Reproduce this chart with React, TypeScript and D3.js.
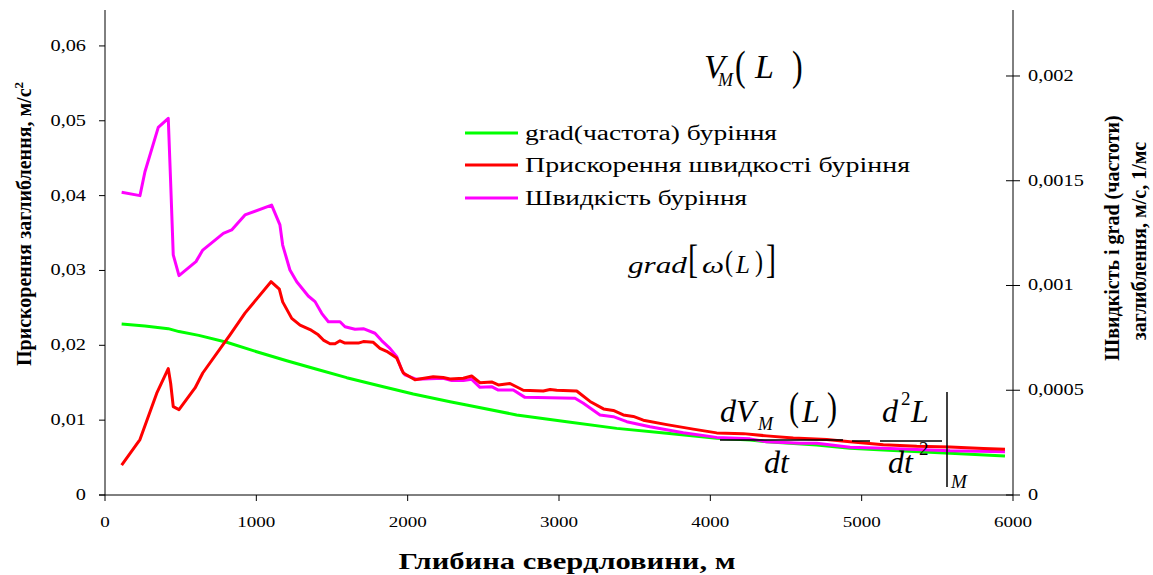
import React from "react";
import * as d3 from "d3";

// ---- Data (depth in m) ----
const redDepth = [110, 231, 342, 418, 434, 451, 489, 595, 646, 826, 925, 1097, 1152, 1174, 1234, 1289, 1355, 1409, 1443, 1487, 1520, 1553, 1586, 1674, 1707, 1773, 1817, 1861, 1928, 1971, 2048, 2169, 2235, 2280, 2368, 2423, 2478, 2555, 2599, 2676, 2764, 2896, 2941, 2985, 3117, 3205, 3294, 3359, 3425, 3491, 3557, 3712, 3887, 4042, 4218, 4372, 4548, 4769, 4923, 5143, 5364, 5584, 5804, 5947];
const redValue = [0.0040, 0.0074, 0.0136, 0.0169, 0.0149, 0.0118, 0.0114, 0.0143, 0.0163, 0.0214, 0.0243, 0.0285, 0.0275, 0.0258, 0.0236, 0.0227, 0.0221, 0.0214, 0.0207, 0.0202, 0.0202, 0.0206, 0.0203, 0.0203, 0.0205, 0.0204, 0.0196, 0.0192, 0.0183, 0.0163, 0.0154, 0.0158, 0.0157, 0.0155, 0.0156, 0.0159, 0.0150, 0.0151, 0.0147, 0.0149, 0.0140, 0.0139, 0.0141, 0.0140, 0.0139, 0.0125, 0.0115, 0.0113, 0.0107, 0.0105, 0.0100, 0.0094, 0.0088, 0.0083, 0.0082, 0.0079, 0.0076, 0.0074, 0.0071, 0.0067, 0.0065, 0.0064, 0.0062, 0.0061];

const magDepth = [110, 231, 264, 352, 418, 434, 451, 489, 601, 646, 782, 837, 925, 1101, 1156, 1174, 1222, 1267, 1343, 1388, 1432, 1476, 1553, 1586, 1652, 1707, 1784, 1828, 1883, 1928, 1961, 1982, 2060, 2235, 2291, 2368, 2423, 2478, 2555, 2599, 2698, 2775, 3106, 3161, 3271, 3359, 3448, 3601, 3821, 4042, 4262, 4372, 4593, 4703, 4923, 5143, 5584, 5947];
const magValue = [0.001445, 0.001429, 0.001543, 0.001755, 0.001798, 0.001488, 0.001146, 0.001047, 0.001114, 0.001169, 0.001249, 0.001265, 0.001337, 0.001384, 0.001289, 0.001193, 0.001074, 0.001018, 0.00095, 0.000923, 0.000867, 0.000827, 0.000827, 0.000803, 0.000791, 0.000794, 0.000772, 0.000737, 0.0007, 0.00066, 0.000597, 0.000573, 0.000552, 0.000557, 0.000546, 0.000546, 0.000552, 0.000514, 0.000517, 0.000501, 0.000501, 0.000466, 0.000462, 0.000438, 0.000382, 0.000374, 0.00035, 0.000326, 0.000297, 0.000275, 0.000268, 0.000254, 0.000247, 0.000247, 0.000228, 0.000223, 0.000211, 0.000207];

const greenDepth = [110, 264, 418, 489, 620, 804, 1002, 1201, 1399, 1597, 1839, 2037, 2280, 2390, 2720, 3051, 3381, 3712, 4042, 4262, 4372, 4703, 4923, 5143, 5584, 5947];
const greenValue = [0.000816, 0.000807, 0.000794, 0.00078, 0.000762, 0.000729, 0.000684, 0.000641, 0.0006, 0.00056, 0.000517, 0.000482, 0.000445, 0.00043, 0.000382, 0.00035, 0.000318, 0.000295, 0.000271, 0.000263, 0.000254, 0.000239, 0.000223, 0.000215, 0.000199, 0.000186];

const xTicks = [0, 1000, 2000, 3000, 4000, 5000, 6000];
const leftTicks = [0, 0.01, 0.02, 0.03, 0.04, 0.05, 0.06];
const leftTickLabels = ["0", "0,01", "0,02", "0,03", "0,04", "0,05", "0,06"];
const rightTicks = [0, 0.0005, 0.001, 0.0015, 0.002];
const rightTickLabels = ["0", "0,0005", "0,001", "0,0015", "0,002"];

const legendLabels = ["grad(частота) буріння", "Прискорення швидкості буріння", "Швидкість буріння"];
const legendColors = ["#00ff00", "#ff0000", "#ff00ff"];

const xTitle = "Глибина свердловини, м";
const leftTitle = "Прискорення заглиблення, м/с";
const rightTitle1 = "Швидкість і grad (частоти)";
const rightTitle2 = "заглиблення, м/с, 1/мс";

const SERIF = "'Liberation Serif', 'Times New Roman', serif";

export default function App() {
  const W = 1153, H = 575;
  const x = d3.scaleLinear().domain([0, 6000]).range([105, 1013]);
  const yL = d3.scaleLinear().domain([0, 0.0648]).range([495, 10]);
  const yR = d3.scaleLinear().domain([0, 0.002315]).range([495, 10]);

  const mk = (ys: d3.ScaleLinear<number, number>) =>
    d3.line<[number, number]>().x((d) => x(d[0])).y((d) => ys(d[1]));

  const red = mk(yL)(redDepth.map((d, i) => [d, redValue[i]]));
  const mag = mk(yR)(magDepth.map((d, i) => [d, magValue[i]]));
  const green = mk(yR)(greenDepth.map((d, i) => [d, greenValue[i]]));

  const sx = 1.27;
  const paren = (key: string, px: number, py: number, size: number, sy: number, ch: string) => (
    <text key={key} transform={`translate(${px},${py}) scale(1,${sy})`} fontSize={size} fontStyle="normal">{ch}</text>
  );

  return (
    <svg width={W} height={H} style={{ position: "absolute", left: 0, top: 0, background: "#fff" }} fontFamily={SERIF}>
      <rect x={0} y={0} width={W} height={H} fill="#fff" />
      {/* axes */}
      <line x1={105} y1={10} x2={105} y2={495} stroke="#000" strokeWidth={1} />
      <line x1={1013} y1={10} x2={1013} y2={495} stroke="#000" strokeWidth={1} />
      <line x1={99} y1={495} x2={1013} y2={495} stroke="#000" strokeWidth={1} />
      {leftTicks.map((t, i) => (
        <g key={"l" + i}>
          <line x1={99} x2={105} y1={yL(t)} y2={yL(t)} stroke="#000" />
          <text transform={`translate(86,${yL(t) + 5}) scale(${sx},1)`} textAnchor="end" fontSize={16}>
            {leftTickLabels[i]}
          </text>
        </g>
      ))}
      {rightTicks.map((t, i) => (
        <g key={"r" + i}>
          <line x1={1006} x2={1020} y1={yR(t)} y2={yR(t)} stroke="#000" />
          <text transform={`translate(1028,${yR(t) + 5}) scale(${sx},1)`} textAnchor="start" fontSize={16}>
            {rightTickLabels[i]}
          </text>
        </g>
      ))}
      {xTicks.map((t, i) => (
        <g key={"x" + i}>
          <line x1={x(t)} x2={x(t)} y1={495} y2={501} stroke="#000" />
          <text transform={`translate(${x(t)},527) scale(${sx},1)`} textAnchor="middle" fontSize={15}>
            {String(t)}
          </text>
        </g>
      ))}

      {/* series */}
      <path d={green || ""} fill="none" stroke="#00ff00" strokeWidth={3} strokeLinejoin="round" />
      <path d={mag || ""} fill="none" stroke="#ff00ff" strokeWidth={3} strokeLinejoin="round" />
      <path d={red || ""} fill="none" stroke="#ff0000" strokeWidth={3} strokeLinejoin="round" />

      {/* legend */}
      {legendLabels.map((lab, i) => {
        const yy = [133, 165, 198][i];
        return (
          <g key={"lg" + i}>
            <line x1={465} x2={518} y1={yy} y2={yy} stroke={legendColors[i]} strokeWidth={3} />
            <text x={525} y={yy + 7} fontSize={20} textLength={[252, 385, 222][i]} lengthAdjust="spacingAndGlyphs">
              {lab}
            </text>
          </g>
        );
      })}

      {/* titles */}
      <text x={567} y={569} fontSize={24} fontWeight="bold" textAnchor="middle" textLength={337} lengthAdjust="spacingAndGlyphs">
        {xTitle}
      </text>
      <text transform="translate(31,224) rotate(-90)" fontSize={20} fontWeight="bold" textAnchor="middle">
        {leftTitle}
        <tspan dy={-8} fontSize={13}>2</tspan>
      </text>
      <text transform="translate(1119,238) rotate(-90)" fontSize={20} fontWeight="bold" textAnchor="middle">
        {rightTitle1}
      </text>
      <text transform="translate(1146,241) rotate(-90)" fontSize={20} fontWeight="bold" textAnchor="middle">
        {rightTitle2}
      </text>

      {/* formula V_M(L) */}
      <g fontStyle="italic">
        <text x={704} y={78} fontSize={34}>V</text>
        <text x={718} y={86} fontSize={18}>M</text>
        {paren("vp1", 735, 80, 32, 1.35, "(")}
        <text x={755} y={78} fontSize={34}>L</text>
        {paren("vp2", 792, 80, 32, 1.35, ")")}
      </g>

      {/* grad[ω(L)] */}
      <g fontStyle="italic">
        <text transform="translate(628,273) scale(1.3,1)" fontSize={24}>grad</text>
        {paren("gb1", 688, 273, 30, 1.35, "[")}
        <text transform="translate(702,273) scale(1.3,1)" fontSize={24}>ω</text>
        {paren("gp1", 725, 271, 24, 1.2, "(")}
        <text x={736} y={273} fontSize={25}>L</text>
        {paren("gp2", 755, 271, 24, 1.2, ")")}
        {paren("gb2", 766, 273, 30, 1.35, "]")}
      </g>

      {/* dV_M(L)/dt = d²L/dt² |_M */}
      <g fontStyle="italic">
        <text x={720} y={422} fontSize={32}>dV</text>
        <text x={758} y={430} fontSize={18}>M</text>
        {paren("dp1", 789, 420, 30, 1.3, "(")}
        <text x={802} y={422} fontSize={32}>L</text>
        {paren("dp2", 827, 420, 30, 1.3, ")")}
        <line x1={720} x2={843} y1={440} y2={440} stroke="#000" strokeWidth={1.5} />
        <text x={764} y={473} fontSize={32}>dt</text>
        <line x1={852} x2={870} y1={441} y2={441} stroke="#000" strokeWidth={1.5} />
        <text x={882} y={422} fontSize={32}>d</text>
        <text x={901} y={405} fontSize={19} fontStyle="normal">2</text>
        <text x={911} y={422} fontSize={32}>L</text>
        <line x1={880} x2={942} y1={441} y2={441} stroke="#000" strokeWidth={1.5} />
        <text x={888} y={473} fontSize={32}>dt</text>
        <text x={919} y={455} fontSize={19} fontStyle="normal">2</text>
        <line x1={947} x2={947} y1={392} y2={487} stroke="#000" strokeWidth={1.5} />
        <text x={951} y={488} fontSize={19}>M</text>
      </g>
    </svg>
  );
}
